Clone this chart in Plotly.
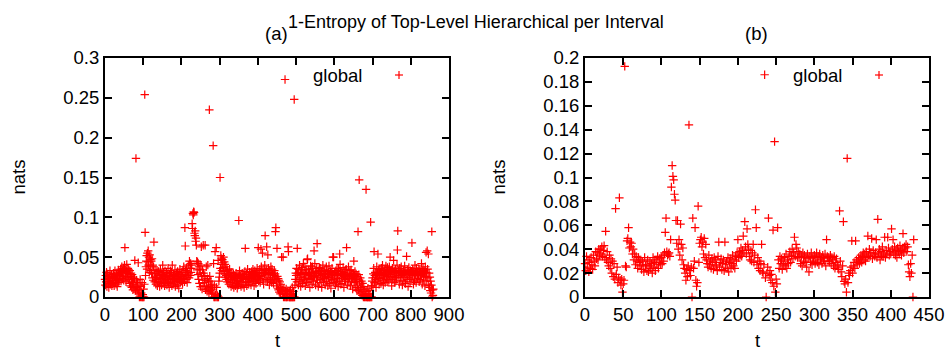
import plotly.graph_objects as go

# Per-interval top-level hierarchical entropy, in milli-nats (1000 = 1 nat).
# Panel (a): intervals 0..859
a_mnats = [
    22, 15, 27, 19, 31, 13, 24, 29, 17, 23, 12, 26, 20, 33, 16, 24, 18, 28, 14, 21,
    25, 17, 30, 21, 14, 26, 33, 19, 24, 16, 29, 23, 13, 27, 21, 34, 18, 22, 28, 31,
    27, 35, 20, 31, 38, 23, 33, 26, 36, 21, 30, 40, 62, 34, 25, 19, 32, 41, 24, 30,
    36, 22, 34, 28, 17, 33, 26, 14, 30, 22, 12, 28, 19, 9, 25, 16, 11, 23, 46, 13,
    8, 174, 21, 12, 6, 18, 10, 43, 4, 15, 0, 9, 22, 0, 13, 5, 0, 18, 0, 3,
    0, 10, 0, 16, 254, 81, 27, 38, 45, 52, 35, 55, 44, 58, 40, 50, 31, 53, 38, 47,
    33, 45, 30, 48, 24, 40, 21, 38, 69, 29, 19, 34, 25, 16, 30, 22, 33, 14, 27, 19,
    32, 18, 27, 13, 24, 35, 20, 29, 15, 23, 28, 40, 17, 31, 21, 26, 14, 33, 22, 18,
    24, 30, 15, 27, 20, 36, 18, 25, 12, 29, 22, 33, 17, 26, 31, 14, 40, 23, 19, 28,
    16, 27, 21, 34, 13, 25, 19, 30, 23, 15, 32, 20, 26, 11, 29, 22, 35, 18, 24, 28,
    20, 31, 26, 17, 34, 23, 38, 28, 19, 87, 64, 33, 22, 36, 27, 18, 31, 25, 40, 29,
    24, 45, 36, 27, 42, 31, 36, 40, 92, 86, 105, 103, 107, 106, 80, 77, 83, 70, 74, 65,
    45, 34, 44, 28, 42, 22, 38, 17, 35, 30, 13, 40, 63, 26, 10, 34, 21, 65, 30, 14,
    18, 27, 65, 9, 21, 38, 13, 7, 23, 40, 11, 19, 5, 235, 26, 15, 8, 20, 12, 4,
    16, 10, 6, 190, 42, 0, 14, 0, 57, 3, 0, 62, 12, 0, 2, 0, 46, 0, 20, 25,
    30, 150, 36, 52, 41, 48, 33, 47, 43, 37, 50, 32, 44, 29, 41, 25, 38, 27, 22, 35,
    19, 33, 24, 28, 16, 30, 35, 18, 27, 22, 13, 26, 31, 20, 15, 25, 29, 12, 27, 21,
    24, 14, 26, 30, 17, 23, 11, 20, 28, 15, 96, 21, 33, 16, 23, 27, 13, 24, 19, 30,
    25, 15, 23, 28, 12, 26, 32, 61, 18, 22, 29, 14, 23, 35, 19, 26, 16, 24, 31, 20,
    23, 28, 15, 25, 32, 19, 27, 35, 21, 29, 14, 26, 33, 20, 28, 17, 30, 22, 36, 24,
    29, 62, 20, 31, 26, 35, 18, 23, 60, 38, 27, 33, 55, 21, 30, 16, 35, 29, 40, 77,
    31, 22, 34, 63, 28, 19, 53, 30, 36, 24, 15, 33, 29, 21, 38, 31, 18, 35, 28, 24,
    30, 17, 27, 33, 22, 29, 82, 87, 20, 14, 61, 26, 11, 23, 9, 21, 6, 19, 12, 4,
    16, 8, 50, 12, 5, 9, 50, 0, 11, 3, 0, 273, 7, 0, 10, 0, 4, 0, 8, 63,
    57, 0, 6, 0, 0, 9, 0, 0, 3, 0, 12, 0, 0, 7, 0, 248, 0, 15, 22, 30,
    27, 36, 19, 61, 29, 35, 15, 31, 24, 40, 20, 30, 13, 28, 34, 22, 37, 17, 29, 42,
    21, 30, 25, 38, 14, 29, 35, 19, 31, 47, 48, 18, 28, 34, 23, 30, 12, 27, 39, 22,
    29, 36, 16, 38, 25, 31, 20, 58, 26, 42, 30, 15, 32, 24, 36, 67, 21, 30, 13, 33,
    27, 37, 18, 36, 29, 22, 33, 12, 30, 25, 40, 28, 19, 32, 23, 34, 15, 29, 26, 38,
    20, 33, 28, 14, 30, 24, 39, 17, 29, 25, 32, 11, 31, 22, 36, 28, 50, 18, 50, 29,
    21, 31, 27, 15, 33, 28, 19, 36, 23, 29, 13, 35, 27, 20, 54, 41, 30, 16, 32, 28,
    17, 29, 24, 37, 27, 12, 31, 22, 28, 20, 34, 35, 62, 26, 15, 29, 23, 38, 19, 28,
    25, 33, 14, 27, 34, 20, 29, 23, 10, 30, 26, 45, 18, 27, 32, 22, 12, 29, 20, 8,
    26, 15, 82, 9, 28, 147, 19, 6, 24, 12, 4, 20, 10, 2, 17, 7, 0, 13, 3, 0,
    9, 0, 3, 135, 0, 7, 0, 0, 11, 0, 4, 0, 0, 8, 0, 94, 0, 14, 0, 20,
    24, 14, 29, 36, 57, 18, 27, 31, 22, 12, 28, 38, 20, 30, 54, 24, 34, 16, 29, 35,
    23, 31, 17, 36, 28, 21, 40, 29, 15, 24, 33, 27, 34, 18, 30, 39, 22, 32, 26, 37,
    19, 33, 29, 21, 38, 28, 50, 31, 24, 34, 14, 26, 36, 22, 32, 46, 29, 18, 33, 25,
    35, 20, 31, 24, 40, 59, 83, 27, 33, 29, 16, 36, 25, 32, 21, 38, 30, 27, 15, 31,
    28, 33, 20, 30, 39, 25, 17, 32, 29, 51, 22, 34, 28, 13, 31, 37, 24, 30, 19, 33,
    29, 22, 32, 68, 27, 35, 30, 16, 33, 28, 21, 40, 29, 31, 18, 36, 27, 32, 23, 30,
    28, 35, 19, 31, 35, 22, 30, 27, 42, 29, 16, 32, 36, 25, 21, 33, 30, 14, 38, 26,
    56, 31, 20, 58, 35, 24, 54, 15, 30, 12, 25, 8, 20, 5, 15, 82, 0, 9, 2, 10,
]

# Panel (b): intervals 0..430
b_mnats = [
    28, 22, 34, 25, 31, 21, 29, 24, 33, 27, 23, 35, 30, 26, 38, 32, 37, 31, 40, 35,
    40, 36, 42, 34, 39, 43, 33, 55, 31, 38, 29, 26, 35, 24, 32, 20, 30, 17, 28, 15,
    74, 19, 25, 12, 16, 83, 14, 10, 15, 4, 11, 14, 193, 26, 25, 47, 49, 58, 41, 46,
    42, 45, 36, 40, 31, 36, 27, 34, 30, 24, 33, 29, 26, 31, 23, 30, 27, 21, 33, 26,
    27, 22, 31, 21, 26, 30, 24, 28, 20, 33, 25, 29, 22, 31, 27, 34, 24, 29, 32, 27,
    33, 28, 35, 30, 37, 54, 66, 38, 35, 36, 37, 34, 48, 92, 110, 101, 98, 86, 81, 64,
    45, 64, 40, 48, 35, 61, 44, 31, 41, 27, 24, 20, 14, 23, 17, 26, 144, 22, 18, 25,
    0, 66, 24, 30, 58, 14, 9, 12, 76, 29, 45, 48, 50, 42, 46, 36, 49, 33, 44, 31,
    28, 25, 35, 27, 30, 24, 32, 29, 23, 33, 26, 31, 27, 22, 34, 46, 25, 29, 32, 23,
    28, 31, 22, 46, 27, 30, 24, 33, 21, 29, 32, 25, 28, 35, 26, 31, 24, 34, 30, 37,
    48, 33, 38, 35, 41, 34, 39, 51, 37, 63, 42, 36, 57, 44, 40, 34, 31, 39, 30, 37,
    44, 29, 35, 73, 58, 27, 33, 24, 30, 22, 28, 44, 21, 20, 27, 186, 16, 0, 20, 25,
    66, 18, 22, 14, 19, 12, 56, 9, 130, 4, 15, 11, 58, 31, 24, 34, 28, 32, 23, 30,
    27, 33, 26, 36, 24, 31, 28, 34, 38, 29, 35, 40, 32, 37, 50, 34, 44, 41, 33, 38,
    33, 36, 28, 34, 26, 37, 30, 35, 29, 33, 25, 36, 32, 21, 34, 29, 37, 27, 33, 30,
    35, 28, 33, 37, 29, 34, 27, 36, 31, 33, 28, 35, 32, 30, 36, 26, 48, 34, 30, 33,
    30, 35, 28, 33, 31, 26, 34, 24, 29, 32, 27, 25, 23, 72, 30, 21, 17, 26, 63, 13,
    11, 15, 4, 116, 12, 20, 18, 22, 25, 47, 20, 26, 29, 24, 47, 31, 27, 30, 33, 28,
    32, 35, 29, 34, 37, 31, 36, 30, 38, 33, 51, 35, 40, 34, 37, 49, 32, 39, 36, 34,
    37, 48, 33, 65, 36, 40, 31, 38, 35, 42, 34, 37, 50, 33, 39, 36, 50, 41, 35, 38,
    36, 57, 40, 48, 37, 42, 35, 39, 33, 41, 38, 36, 43, 39, 35, 40, 53, 37, 42, 41,
    44, 38, 42, 27, 21, 17, 28, 20, 35, 0, 48,
]

a_x_ticks = [0, 100, 200, 300, 400, 500, 600, 700, 800, 900]
a_y_ticks = [0, 0.05, 0.1, 0.15, 0.2, 0.25, 0.3]
a_y_labels = ["0", "0.05", "0.1", "0.15", "0.2", "0.25", "0.3"]
b_x_ticks = [0, 50, 100, 150, 200, 250, 300, 350, 400, 450]
b_y_ticks = [0, 0.02, 0.04, 0.06, 0.08, 0.1, 0.12, 0.14, 0.16, 0.18, 0.2]
b_y_labels = ["0", "0.02", "0.04", "0.06", "0.08", "0.1", "0.12", "0.14", "0.16", "0.18", "0.2"]

series_name = "global"
title_text = "1-Entropy of Top-Level Hierarchical per Interval"

W, H = 947, 351
RED = "rgb(255,0,0)"
FONT = "Liberation Sans, Arial, sans-serif"
FS = 18.5


def px(x):
    return x / W


def py(y):
    return 1 - y / H


marker = dict(symbol="cross-thin", size=6, line=dict(color=RED, width=1.2), color=RED)

fig = go.Figure()
fig.add_trace(go.Scatter(
    x=list(range(len(a_mnats))), y=[v / 1000 for v in a_mnats],
    mode="markers", marker=marker, name=series_name, cliponaxis=False,
    xaxis="x", yaxis="y", showlegend=False,
))
fig.add_trace(go.Scatter(
    x=list(range(len(b_mnats))), y=[v / 1000 for v in b_mnats],
    mode="markers", marker=marker, name=series_name, cliponaxis=False,
    xaxis="x2", yaxis="y2", showlegend=False,
))

axis_common = dict(
    showline=True, linecolor="black", linewidth=2, mirror="ticks",
    ticks="inside", ticklen=7, tickwidth=1.5, tickcolor="black",
    showgrid=False, zeroline=False, automargin=False,
    tickfont=dict(family=FONT, size=FS, color="black"),
)

plot_top, plot_bottom = 58, 297
a_left, a_right = 105, 449
b_left, b_right = 585, 929

fig.update_layout(
    template="none",
    width=W, height=H,
    margin=dict(l=0, r=0, t=0, b=0, pad=0, autoexpand=False),
    paper_bgcolor="white", plot_bgcolor="white",
    xaxis=dict(domain=[px(a_left), px(a_right)], range=[0, 900],
               tickvals=a_x_ticks, anchor="y", **axis_common),
    yaxis=dict(domain=[py(plot_bottom), py(plot_top)], range=[0, 0.3],
               tickvals=a_y_ticks, ticktext=a_y_labels, anchor="x", **axis_common),
    xaxis2=dict(domain=[px(b_left), px(b_right)], range=[0, 450],
                tickvals=b_x_ticks, anchor="y2", **axis_common),
    yaxis2=dict(domain=[py(plot_bottom), py(plot_top)], range=[0, 0.2],
                tickvals=b_y_ticks, ticktext=b_y_labels, anchor="x2", **axis_common),
    showlegend=False,
)

txt = dict(family=FONT, size=FS, color="black")


def label(x, y, text, **kw):
    opts = dict(x=px(x), y=py(y), text=text, showarrow=False,
                xref="paper", yref="paper", xanchor="center", yanchor="middle",
                font=txt)
    opts.update(kw)
    return opts


ann = []
# panel captions and figure title
ann.append(label(276, 33, "(a)"))
ann.append(label(286, 22, title_text, xanchor="left",
                 font=dict(family=FONT, size=18, color="black")))
ann.append(label(756, 33, "(b)"))
# axis titles and key labels
for left, right in ((a_left, a_right), (b_left, b_right)):
    ann.append(label(left - 87, (plot_top + plot_bottom) / 2, "nats", textangle=-90))
    ann.append(label((left + right) / 2, 340, "t"))
    ann.append(label(left + 232, 76, series_name))

# key marker sample to the right of the label
shapes = []
for left in (a_left, b_left):
    cx, cy, r = left + 294, 75, 4
    shapes.append(dict(type="line", xref="paper", yref="paper",
                       x0=px(cx - r), x1=px(cx + r), y0=py(cy), y1=py(cy),
                       line=dict(color=RED, width=1.2)))
    shapes.append(dict(type="line", xref="paper", yref="paper",
                       x0=px(cx), x1=px(cx), y0=py(cy - r), y1=py(cy + r),
                       line=dict(color=RED, width=1.2)))

fig.update_layout(annotations=ann, shapes=shapes)

fig.write_html("out.html")
